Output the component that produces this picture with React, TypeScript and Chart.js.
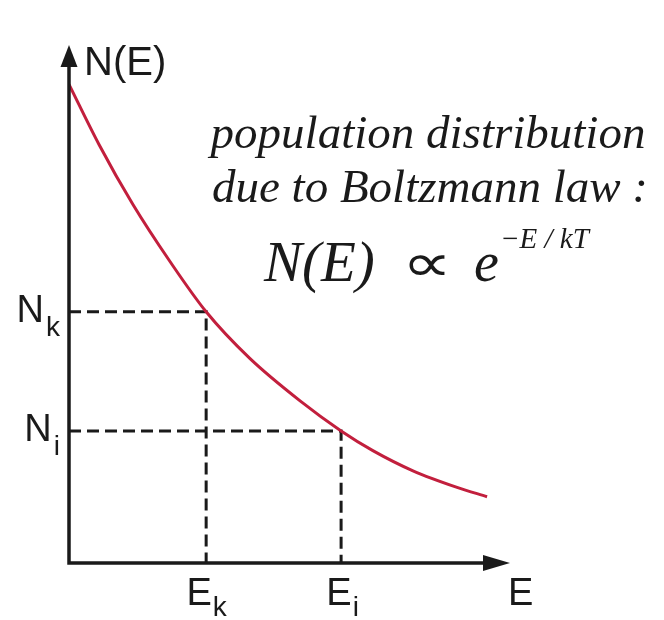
import React, { useEffect, useRef } from "react";
import { Chart, registerables } from "chart.js";

Chart.register(...registerables);

// Energy (arbitrary units) and relative population along the Boltzmann curve
const energy = [0, 0.68, 1.45, 2.29, 3.11, 4.1, 5.24, 6.17, 6.89, 7.8, 8.8, 9.48];
const population = [9.24, 8.08, 6.92, 5.82, 4.85, 3.95, 3.13, 2.55, 2.17, 1.78, 1.46, 1.28];

// Two marked levels (k and i) that sit on the curve
const levelNames = ["k", "i"];
const levelEnergy = [3.11, 6.17];
const levelPopulation = [4.85, 2.55];

const axisMax = 10;

const SANS = '"Liberation Sans", Arial, sans-serif';
const SERIF = '"Liberation Serif", "Times New Roman", serif';
const INK = "#1a1a1a";
const CURVE = "#c21f3d";

const axesAndLabels = {
  id: "axesAndLabels",
  afterDatasetsDraw(chart: any) {
    const { ctx } = chart;
    const xs = chart.scales.x;
    const ys = chart.scales.y;
    const x0 = xs.getPixelForValue(0);
    const y0 = ys.getPixelForValue(0);
    const xEnd = xs.getPixelForValue(axisMax);
    const yEnd = ys.getPixelForValue(axisMax);

    ctx.save();
    // axis lines
    ctx.strokeStyle = INK;
    ctx.fillStyle = INK;
    ctx.lineWidth = 3.5;
    ctx.lineCap = "butt";
    ctx.beginPath();
    ctx.moveTo(x0, y0 + 1.75);
    ctx.lineTo(x0, yEnd + 15);
    ctx.moveTo(x0 - 1.75, y0);
    ctx.lineTo(xEnd - 20, y0);
    ctx.stroke();
    // arrow heads
    ctx.beginPath();
    ctx.moveTo(x0, yEnd);
    ctx.lineTo(x0 - 8.5, yEnd + 22);
    ctx.lineTo(x0 + 8.5, yEnd + 22);
    ctx.closePath();
    ctx.fill();
    ctx.beginPath();
    ctx.moveTo(xEnd, y0);
    ctx.lineTo(xEnd - 27, y0 - 8);
    ctx.lineTo(xEnd - 27, y0 + 8);
    ctx.closePath();
    ctx.fill();

    // axis titles
    ctx.textAlign = "left";
    ctx.textBaseline = "alphabetic";
    ctx.font = `40px ${SANS}`;
    ctx.fillText("N(E)", x0 + 15, yEnd + 30);
    ctx.font = `38px ${SANS}`;
    ctx.fillText("E", xEnd - 2, y0 + 42);

    // level labels with subscripts
    const mainFont = `38px ${SANS}`;
    const subFont = `28px ${SANS}`;
    levelNames.forEach((name, i) => {
      const py = ys.getPixelForValue(levelPopulation[i]);
      ctx.font = mainFont;
      const wN = ctx.measureText("N").width;
      ctx.font = subFont;
      const wSub = ctx.measureText(name).width;
      const startN = x0 - 9 - wN - wSub;
      ctx.font = mainFont;
      ctx.fillText("N", startN - 2, py + 10);
      ctx.font = subFont;
      ctx.fillText(name, startN + wN, py + 24);

      const px = xs.getPixelForValue(levelEnergy[i]);
      ctx.font = mainFont;
      const wE = ctx.measureText("E").width;
      const startE = px - (wE + wSub) / 2 + (name === "i" ? 1 : 0);
      ctx.fillText("E", startE, y0 + 42);
      ctx.font = subFont;
      ctx.fillText(name, startE + wE + 1, y0 + 53);
    });

    // annotation
    ctx.textAlign = "center";
    ctx.font = `italic 47px ${SERIF}`;
    ctx.fillText("population distribution", 428, 148);
    ctx.fillText("due to Boltzmann law :", 430, 202);

    ctx.textAlign = "left";
    ctx.font = `italic 57px ${SERIF}`;
    ctx.fillText("N(E)", 264, 281);
    ctx.save();
    ctx.translate(402, 281);
    ctx.scale(1.45, 1.1);
    ctx.font = `48px ${SERIF}`;
    ctx.fillText("\u221D", 0, 0);
    ctx.restore();
    ctx.font = `italic 56px ${SERIF}`;
    ctx.fillText("e", 474, 281);
    ctx.font = `italic 29px ${SERIF}`;
    ctx.fillText("\u2212E / kT", 500, 248);
    ctx.restore();
  },
};

export default function App() {
  const canvasRef = useRef<HTMLCanvasElement | null>(null);

  useEffect(() => {
    if (!canvasRef.current) return;
    const curve = energy.map((e, i) => ({ x: e, y: population[i] }));
    const levelSets = levelNames.map((name, i) => ({
      label: `level ${name}`,
      data: [
        { x: 0, y: levelPopulation[i] },
        { x: levelEnergy[i], y: levelPopulation[i] },
        { x: levelEnergy[i], y: 0 },
      ],
      borderColor: INK,
      borderWidth: 3,
      borderDash: [12, 6],
      pointRadius: 0,
      tension: 0,
      fill: false,
      order: 1,
    }));

    const chart = new Chart(canvasRef.current, {
      type: "line",
      data: {
        datasets: [
          {
            label: "N(E)",
            data: curve,
            borderColor: CURVE,
            borderWidth: 3,
            pointRadius: 0,
            cubicInterpolationMode: "monotone",
            fill: false,
            order: 0,
          },
          ...levelSets,
        ] as any,
      },
      options: {
        animation: false,
        responsive: false,
        devicePixelRatio: 1,
        layout: { padding: { left: 69, right: 154, top: 45, bottom: 57 } },
        scales: {
          x: { type: "linear", min: 0, max: axisMax, display: false },
          y: { type: "linear", min: 0, max: axisMax, display: false },
        },
        plugins: {
          legend: { display: false },
          tooltip: { enabled: false },
        },
      },
      plugins: [axesAndLabels],
    });
    return () => chart.destroy();
  }, []);

  return (
    <div style={{ position: "fixed", left: 0, top: 0, width: 664, height: 620, background: "#fff" }}>
      <canvas ref={canvasRef} width={664} height={620} />
    </div>
  );
}
